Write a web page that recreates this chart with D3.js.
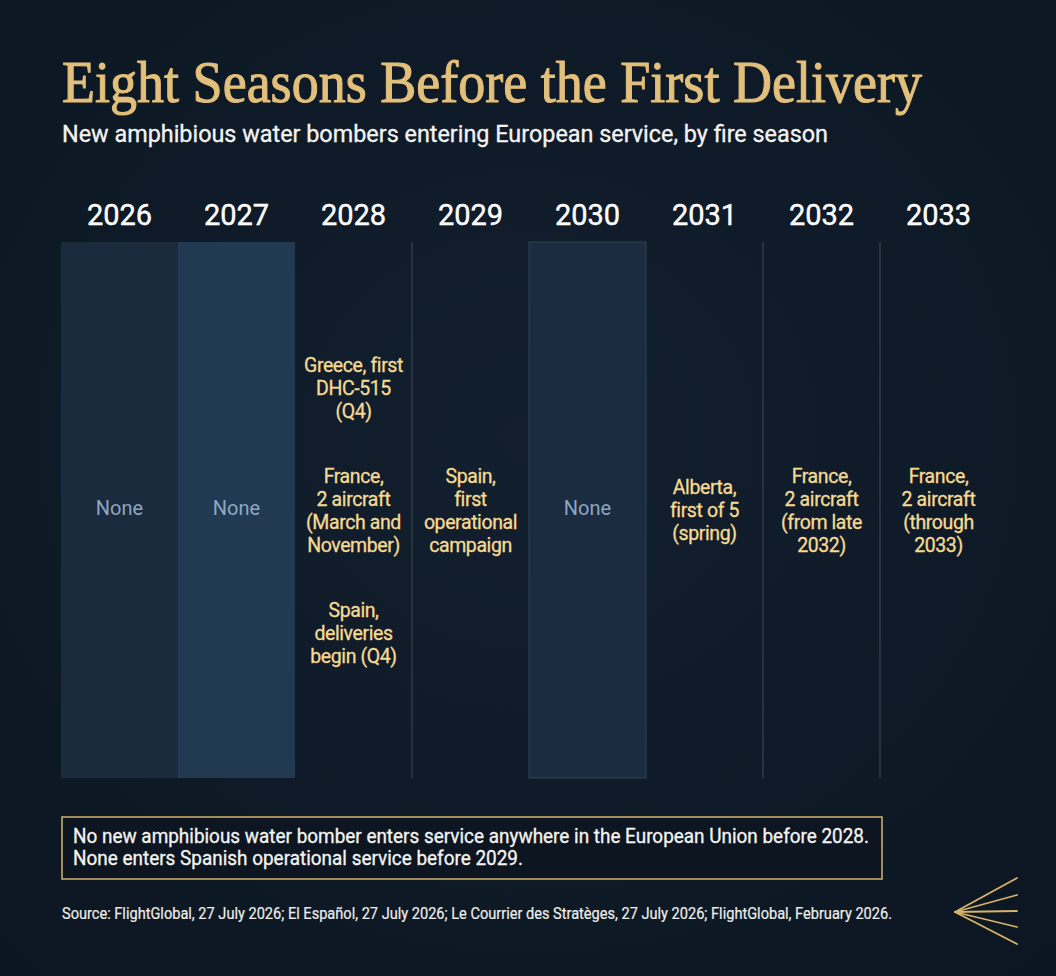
<!DOCTYPE html>
<html>
<head>
<meta charset="utf-8">
<script src="https://cdn.jsdelivr.net/npm/d3@7"></script>
<style>
  html, body { margin: 0; padding: 0; background: #0e1926; }
  svg { display: block; }
</style>
</head>
<body>
<svg id="chart" width="1056" height="976"></svg>
<script>
// ---------- DATA ----------
const years = ["2026", "2027", "2028", "2029", "2030", "2031", "2032", "2033"];
// Each season: list of delivery entries (each entry a list of text lines); empty = "None"
const deliveries2026 = [];
const deliveries2027 = [];
const deliveries2028 = [
  ["Greece, first", "DHC-515", "(Q4)"],
  ["France,", "2 aircraft", "(March and", "November)"],
  ["Spain,", "deliveries", "begin (Q4)"]
];
const deliveries2029 = [["Spain,", "first", "operational", "campaign"]];
const deliveries2030 = [];
const deliveries2031 = [["Alberta,", "first of 5", "(spring)"]];
const deliveries2032 = [["France,", "2 aircraft", "(from late", "2032)"]];
const deliveries2033 = [["France,", "2 aircraft", "(through", "2033)"]];
const seasonEntries = [deliveries2026, deliveries2027, deliveries2028, deliveries2029,
                       deliveries2030, deliveries2031, deliveries2032, deliveries2033];
const noneLabel = "None";
const titleText = "Eight Seasons Before the First Delivery";
const subtitleText = "New amphibious water bombers entering European service, by fire season";
const noteLines = [
  "No new amphibious water bomber enters service anywhere in the European Union before 2028.",
  "None enters Spanish operational service before 2029."
];
const sourceText = "Source: FlightGlobal, 27 July 2026; El Español, 27 July 2026; Le Courrier des Stratèges, 27 July 2026; FlightGlobal, February 2026.";

// ---------- DRAW ----------
const svg = d3.select("#chart");
const W = 1056, H = 976;

const defs = svg.append("defs");
const rg = defs.append("radialGradient").attr("id", "bg").attr("cx", "50%").attr("cy", "45%").attr("r", "75%");
rg.append("stop").attr("offset", "0%").attr("stop-color", "#121f2e");
rg.append("stop").attr("offset", "100%").attr("stop-color", "#0c1622");
svg.append("rect").attr("width", W).attr("height", H).attr("fill", "url(#bg)");

function fit(sel, width) {
  sel.attr("textLength", width).attr("lengthAdjust", "spacingAndGlyphs");
}

// title
svg.append("text").attr("x", 62).attr("y", 102)
  .attr("font-family", "'Liberation Serif', 'DejaVu Serif', serif")
  .attr("font-size", 60).attr("fill", "#e2bf7a")
  .attr("stroke", "#e2bf7a").attr("stroke-width", 1.1)
  .text(titleText).call(fit, 860);

// subtitle
svg.append("text").attr("x", 62).attr("y", 142)
  .attr("font-family", "Roboto, 'Liberation Sans', sans-serif")
  .attr("font-size", 23.5).attr("fill", "#f4f4f2")
  .attr("stroke", "#f4f4f2").attr("stroke-width", 0.3)
  .text(subtitleText).call(fit, 766);

// columns
const x = d3.scaleBand().domain(years).range([61, 997]).padding(0);
const colTop = 242, colBottom = 778;
const y = d3.scaleLinear().domain([0, 1]).range([colBottom, colTop]);

const shadeFill = { "2026": "#1a2b3e", "2027": "#213a52", "2030": "#1b2c41" };

years.forEach((yr) => {
  if (shadeFill[yr]) {
    svg.append("rect")
      .attr("x", x(yr)).attr("y", y(1))
      .attr("width", x.bandwidth()).attr("height", y(0) - y(1))
      .attr("fill", shadeFill[yr])
      .attr("stroke", yr === "2030" ? "#2e435a" : "none")
      .attr("stroke-width", 1);
  }
});

// separators between unshaded neighbouring columns
years.forEach((yr, i) => {
  if (i === 0) return;
  const prev = years[i - 1];
  if (!shadeFill[yr] && !shadeFill[prev]) {
    svg.append("line")
      .attr("x1", x(yr)).attr("x2", x(yr))
      .attr("y1", y(1)).attr("y2", y(0))
      .attr("stroke", "#35434f").attr("stroke-width", 1.2);
  }
});

// year headers
svg.append("g").selectAll("text").data(years).join("text")
  .attr("x", d => x(d) + x.bandwidth() / 2).attr("y", 225)
  .attr("text-anchor", "middle")
  .attr("font-family", "Roboto, 'Liberation Sans', sans-serif")
  .attr("font-size", 29).attr("fill", "#ffffff")
  .attr("stroke", "#ffffff").attr("stroke-width", 0.4)
  .text(d => d);

// cell texts
const lineH = 23, groupGap = 65, midY = 517;
years.forEach((yr, i) => {
  const entries = seasonEntries[i];
  const cx = x(yr) + x.bandwidth() / 2;
  if (entries.length === 0) {
    svg.append("text").attr("x", cx).attr("y", 515)
      .attr("text-anchor", "middle")
      .attr("font-family", "Roboto, 'Liberation Sans', sans-serif")
      .attr("font-size", 20).attr("fill", "#8ea6c0")
      .text(noneLabel);
    return;
  }
  const lines = [];
  let pos = 0;
  entries.forEach((g, gi) => {
    if (gi > 0) pos += groupGap;
    g.forEach((ln, li) => {
      if (li > 0) pos += lineH;
      lines.push({ t: ln, p: pos });
    });
  });
  const span = pos;
  svg.append("g").selectAll("text").data(lines).join("text")
    .attr("x", cx).attr("y", d => midY - span / 2 + d.p)
    .attr("text-anchor", "middle")
    .attr("font-family", "Roboto, 'Liberation Sans', sans-serif")
    .attr("font-size", 19.5).attr("letter-spacing", -0.4)
    .attr("fill", "#f5da92").attr("stroke", "#f5da92").attr("stroke-width", 0.3)
    .text(d => d.t);
});

// note box
svg.append("rect").attr("x", 62).attr("y", 817).attr("width", 820).attr("height", 62)
  .attr("fill", "#0c1520").attr("stroke", "#c9ab6c").attr("stroke-width", 1.6);
const noteWidths = [796, 450];
svg.append("g").selectAll("text").data(noteLines).join("text")
  .attr("x", 73).attr("y", (d, i) => 843 + i * 22)
  .attr("font-family", "Roboto, 'Liberation Sans', sans-serif")
  .attr("font-size", 19.5).attr("fill", "#f4f4f2")
  .attr("stroke", "#f4f4f2").attr("stroke-width", 0.3)
  .text(d => d)
  .each(function(d, i) { d3.select(this).call(fit, noteWidths[i]); });

// source
svg.append("text").attr("x", 62).attr("y", 919)
  .attr("font-family", "Roboto, 'Liberation Sans', sans-serif")
  .attr("font-size", 16).attr("fill", "#eeeeec")
  .attr("stroke", "#eeeeec").attr("stroke-width", 0.2)
  .text(sourceText).call(fit, 830);

// logo (fan of gold lines)
const fanEnds = [878, 895, 911, 927, 944];
svg.append("g").selectAll("line").data(fanEnds).join("line")
  .attr("x1", 955).attr("y1", 912).attr("x2", 1017).attr("y2", d => d)
  .attr("stroke", "#d8b46a").attr("stroke-width", 1.8).attr("stroke-linecap", "round");
</script>
</body>
</html>
